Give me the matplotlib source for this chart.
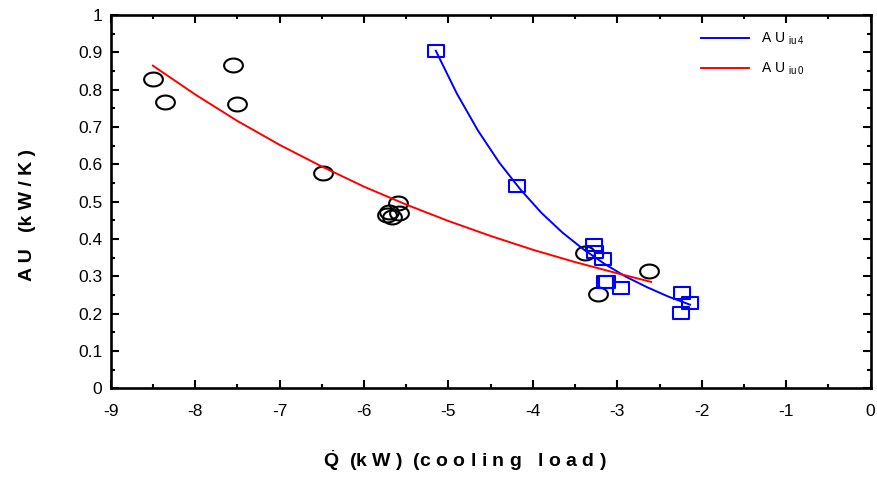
import numpy as np
import matplotlib
matplotlib.use("Agg")
import matplotlib.pyplot as plt
from matplotlib.path import Path
from matplotlib.ticker import MultipleLocator

plt.rcParams['font.family'] = ['Liberation Sans', 'DejaVu Sans']
plt.rcParams['mathtext.fontset'] = 'custom'
plt.rcParams['mathtext.rm'] = 'Liberation Sans'
plt.rcParams['mathtext.it'] = 'Liberation Sans'
plt.rcParams['mathtext.bf'] = 'Liberation Sans:bold'
plt.rcParams['axes.unicode_minus'] = False

# measured points, iu0 (circles)
q_iu0 = [-8.50, -8.36, -7.55, -7.50, -6.49, -5.60, -5.71, -5.73, -5.67, -5.58,
         -3.38, -3.23, -2.62]
au_iu0 = [0.829, 0.767, 0.866, 0.762, 0.577, 0.496, 0.473, 0.464, 0.460, 0.469,
          0.362, 0.253, 0.315]

# measured points, iu4 (squares)
q_iu4 = [-5.15, -4.19, -3.28, -3.27, -3.17, -3.15, -3.12, -2.96, -2.24, -2.14, -2.25]
au_iu4 = [0.904, 0.543, 0.384, 0.366, 0.346, 0.286, 0.286, 0.268, 0.254, 0.229, 0.201]

# fitted curves
fit_q_iu0 = [-8.5, -8.0, -7.5, -7.0, -6.5, -6.0, -5.5, -5.0, -4.5, -4.0, -3.5, -3.0, -2.6]
fit_au_iu0 = [0.864, 0.787, 0.716, 0.652, 0.594, 0.540, 0.492, 0.448, 0.408,
              0.371, 0.338, 0.308, 0.285]
fit_q_iu4 = [-5.15, -4.9, -4.65, -4.4, -4.15, -3.9, -3.65, -3.4, -3.15, -2.9,
             -2.65, -2.4, -2.14]
fit_au_iu4 = [0.904, 0.789, 0.690, 0.605, 0.533, 0.470, 0.417, 0.372, 0.333,
              0.299, 0.271, 0.246, 0.224]

# flattened markers (wider than tall)
t = np.linspace(0, 2 * np.pi, 60)
ellipse = Path(np.column_stack([1.35 * np.cos(t), np.sin(t)]), closed=True)
rect = Path([(-1.3, -1), (1.3, -1), (1.3, 1), (-1.3, 1), (-1.3, -1)], closed=True)

fig = plt.figure(figsize=(8.77, 4.8), dpi=100)
ax = fig.add_axes([0.1262, 0.191, 0.8666, 0.778])

ax.plot(q_iu0, au_iu0, linestyle='none', marker=ellipse, markersize=13.5,
        markerfacecolor='none', markeredgecolor='black', markeredgewidth=1.5, zorder=2)
ax.plot(q_iu4, au_iu4, linestyle='none', marker=rect, markersize=11.5,
        markerfacecolor='none', markeredgecolor='#0000ff', markeredgewidth=1.5, zorder=2)
ax.plot(fit_q_iu4, fit_au_iu4, color='#0000ff', lw=1.4, zorder=3,
        label=r'A U $_{\mathrm{i u\,4}}$')
ax.plot(fit_q_iu0, fit_au_iu0, color='#ff0000', lw=1.4, zorder=3,
        label=r'A U $_{\mathrm{i u\,0}}$')

ax.set_xlim(-9, 0)
ax.set_ylim(0, 1)
ax.xaxis.set_major_locator(MultipleLocator(1))
ax.xaxis.set_minor_locator(MultipleLocator(0.5))
ax.yaxis.set_minor_locator(MultipleLocator(0.05))
ax.set_yticks(np.arange(0, 1.01, 0.1))
ax.set_yticklabels(['0', '0.1', '0.2', '0.3', '0.4', '0.5', '0.6', '0.7', '0.8', '0.9', '1'])

ax.tick_params(which='both', direction='in', top=True, right=True, labelsize=12.5,
               width=1.5)
ax.tick_params(which='major', length=6)
ax.tick_params(axis='x', which='major', pad=11)
ax.tick_params(axis='y', which='major', pad=6)
ax.tick_params(which='minor', length=3)
for s in ax.spines.values():
    s.set_linewidth(1.9)

leg = ax.legend(loc='upper right', frameon=False, fontsize=10, handlelength=3.5,
                labelspacing=1.0, borderaxespad=0.6, bbox_to_anchor=(0.93, 0.995))

fig.text(465 / 877, 1 - 461 / 480, r'$\dot{\mathbf{Q}}$  (k W )  (c o o l i n g   l o a d )',
         ha='center', va='center', fontsize=14, fontweight='bold')
fig.text(27 / 877, 1 - 215 / 480, 'A U   (k W / K )', ha='center', va='center',
         rotation=90, fontsize=14, fontweight='bold')

fig.savefig('out.png', dpi=100)
